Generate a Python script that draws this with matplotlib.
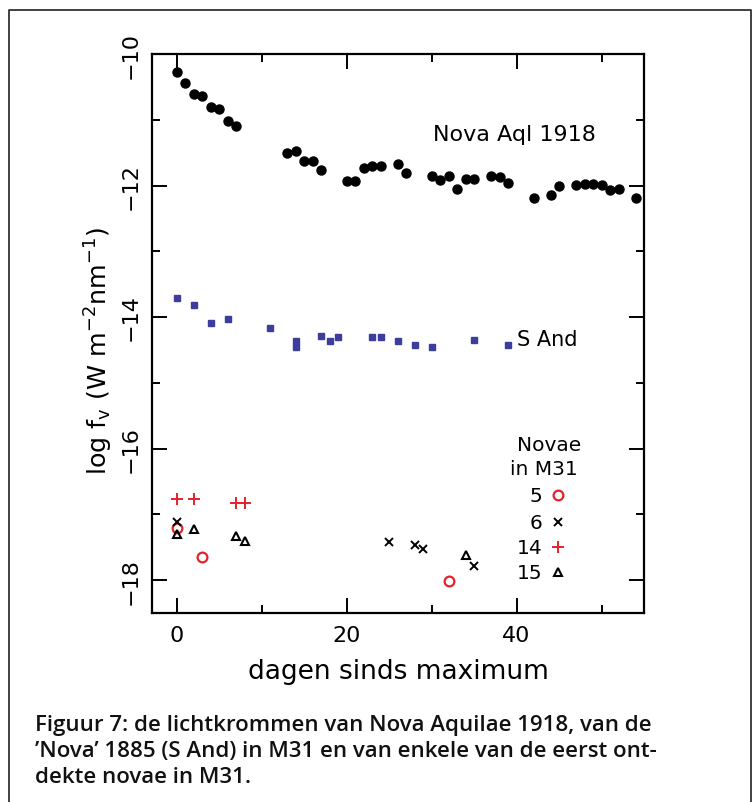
import matplotlib
matplotlib.use("Agg")
import matplotlib.pyplot as plt
from matplotlib.lines import Line2D

# Nova Aquilae 1918
aql_days = [0, 1, 2, 3, 4, 5, 6, 7, 13, 14, 15, 16, 17, 20, 21, 22, 23, 24, 26, 27,
            30, 31, 32, 33, 34, 35, 37, 38, 39, 42, 44, 45, 47, 48, 49, 50, 51, 52, 54]
aql_logf = [-10.28, -10.44, -10.61, -10.64, -10.81, -10.83, -11.02, -11.10, -11.51, -11.47,
            -11.62, -11.62, -11.77, -11.93, -11.93, -11.73, -11.70, -11.70, -11.68, -11.81,
            -11.85, -11.92, -11.86, -12.05, -11.90, -11.90, -11.86, -11.87, -11.96, -12.19,
            -12.15, -12.01, -11.99, -11.97, -11.97, -11.99, -12.07, -12.05, -12.19]

# S Andromedae (1885)
sand_days = [0, 2, 4, 6, 11, 14, 14, 17, 18, 19, 23, 24, 26, 28, 30, 35, 39]
sand_logf = [-13.71, -13.81, -14.09, -14.03, -14.16, -14.37, -14.45, -14.29, -14.37, -14.31,
             -14.30, -14.31, -14.37, -14.42, -14.45, -14.35, -14.42]

# Novae in M31
n5_days = [0, 3, 32]
n5_logf = [-17.21, -17.65, -18.01]
n6_days = [0, 25, 28, 29, 35]
n6_logf = [-17.12, -17.42, -17.47, -17.53, -17.78]
n14_days = [0, 2, 7, 8]
n14_logf = [-16.77, -16.77, -16.82, -16.83]
n15_days = [0, 2, 7, 8, 34]
n15_logf = [-17.30, -17.23, -17.33, -17.40, -17.62]

legend_labels = ["5", "6", "14", "15"]
y_ticks = [-10, -12, -14, -16, -18]
x_ticks = [0, 20, 40]

caption_lines = ["Figuur 7: de lichtkrommen van Nova Aquilae 1918, van de",
                 "\u2019Nova\u2019 1885 (S And) in M31 en van enkele van de eerst ont-",
                 "dekte novae in M31."]

RED = "#e3232c"
BLUE = "#3d3d9e"
W, H = 753, 803

plt.rcParams["font.family"] = ["DejaVu Sans"]

fig = plt.figure(figsize=(W / 100, H / 100), dpi=100)
fig.patch.set_facecolor("white")

# page frame (open at the bottom)
fx0, fx1, fy = 9 / W, 751 / W, 1 - 11 / H
fig.add_artist(Line2D([fx0, fx0, fx1, fx1], [0, fy, fy, 0], transform=fig.transFigure,
                      color="#333333", lw=1.3))

L, R, T, B = 152, 644, 55, 614
ax = fig.add_axes([L / W, 1 - B / H, (R - L) / W, (B - T) / H])
ax.set_xlim(-2.9, 55)
ax.set_ylim(-18.5, -10)

ax.plot(aql_days, aql_logf, "o", color="black", ms=6.5, mec="black")
ax.plot(sand_days, sand_logf, "s", color=BLUE, ms=4.3, mec=BLUE)
ax.plot(n5_days, n5_logf, "o", mfc="none", mec=RED, ms=7, mew=1.6)
ax.plot(n6_days, n6_logf, "x", color="black", ms=5.5, mew=1.4)
ax.plot(n14_days, n14_logf, "+", color=RED, ms=8, mew=1.4)
ax.plot(n15_days, n15_logf, "^", mfc="none", mec="black", ms=6, mew=1.5)

ax.text(30.2, -11.21, "Nova Aql 1918", fontsize=16, va="center", ha="left")
ax.text(40.1, -14.33, "S And", fontsize=15, va="center", ha="left")

# legend for the M31 novae
ax.text(0.807, 0.302, "Novae", transform=ax.transAxes, fontsize=14.5, ha="center", va="center")
ax.text(0.797, 0.258, "in M31", transform=ax.transAxes, fontsize=14.5, ha="center", va="center")
leg_y = [0.211, 0.162, 0.118, 0.0733]
leg_style = [dict(marker="o", mfc="none", mec=RED, ms=7, mew=1.6),
             dict(marker="x", color="black", ms=5.5, mew=1.4),
             dict(marker="+", color=RED, ms=8, mew=1.4),
             dict(marker="^", mfc="none", mec="black", ms=6, mew=1.5)]
for lab, yy, st in zip(legend_labels, leg_y, leg_style):
    ax.text(0.793, yy, lab, transform=ax.transAxes, fontsize=14.5, ha="right", va="center")
    ax.plot([0.826], [yy], transform=ax.transAxes, ls="none", clip_on=False, **st)

for s in ax.spines.values():
    s.set_linewidth(1.6)

ax.set_xticks(x_ticks)
ax.set_xticks([10, 30, 50], minor=True)
ax.set_yticks(y_ticks)
ax.set_yticks([-11, -13, -15, -17], minor=True)
ax.tick_params(which="both", direction="in", top=True, right=True, width=1.4)
ax.tick_params(which="major", length=11)
ax.tick_params(which="minor", length=6)
ax.tick_params(axis="x", labelsize=16, pad=9)
ax.tick_params(axis="y", labelsize=16, pad=8)
ax.set_yticklabels([f"\u2212{abs(v)}" for v in y_ticks], rotation=90, va="center")

ax.set_xlabel("dagen sinds maximum", fontsize=19, labelpad=9)
ax.set_ylabel(r"log f$_\mathrm{v}$ (W m$^{-2}$nm$^{-1}$)", fontsize=18.3)
ax.yaxis.set_label_coords(-0.075, 0.47)

for i, line in enumerate(caption_lines):
    fig.text(35 / W, 1 - (731 + 26 * i) / H, line, fontsize=16,
             family=["Open Sans", "DejaVu Sans"], weight="semibold",
             va="baseline", ha="left", color="#111111")

fig.savefig("out.png", dpi=100)
